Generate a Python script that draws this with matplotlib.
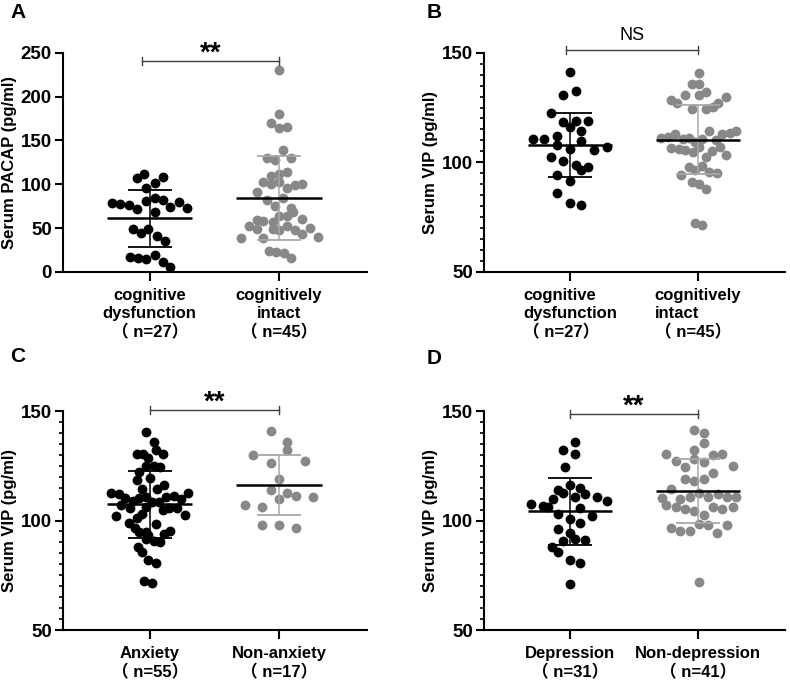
import numpy as np
import matplotlib
matplotlib.use("Agg")
import matplotlib.pyplot as plt
from matplotlib.ticker import MultipleLocator

plt.rcParams['font.family'] = ['Liberation Sans', 'Noto Sans CJK SC']
plt.rcParams['font.weight'] = 'bold'

# ---- panel A: serum PACAP, cognitive dysfunction vs intact
a_labels = ["cognitive\ndysfunction\n（ n=27）", "cognitively\nintact\n（ n=45）"]
a_g1_vals = [111.6, 107.4, 107.8, 101.7, 95.3, 78.2, 77.4, 76.6, 72.1, 81.2, 83.9, 82.0, 68.6, 74.3,
             79.7, 72.9, 49.3, 44.7, 49.3, 41.0, 35.6, 17.4, 15.9, 14.5, 19.7, 11.4, 6.0]
a_g1_dx = [-0.04, -0.10, 0.10, 0.04, -0.03, -0.29, -0.23, -0.16, -0.10, -0.03, 0.04, 0.10, 0.04, 0.16,
           0.23, 0.29, -0.13, -0.07, -0.01, 0.06, 0.12, -0.15, -0.09, -0.03, 0.04, 0.10, 0.16]
a_g2_vals = [230.3, 180.2, 169.6, 164.3, 165.1, 138.9, 129.4, 127.8, 129.4, 109.6, 111.2, 113.5, 102.8,
             99.8, 102.1, 95.3, 99.0, 99.8, 90.7, 81.6, 83.9, 74.8, 72.5, 68.0, 64.1, 64.1, 60.3, 59.5,
             58.0, 57.3, 52.0, 49.0, 49.0, 47.5, 52.0, 47.5, 42.9, 49.7, 39.0, 39.0, 39.8, 23.9, 22.4,
             21.6, 16.3]
a_g2_dx = [0.00, 0.00, -0.06, 0.00, 0.06, 0.03, -0.09, -0.03, 0.09, -0.06, 0.00, 0.06, -0.12, -0.06,
           0.00, 0.06, 0.12, 0.18, -0.17, -0.09, 0.03, -0.03, 0.09, 0.11, 0.00, 0.06, 0.18, -0.17, -0.12,
           -0.05, -0.23, -0.17, -0.05, 0.00, 0.06, 0.12, 0.18, 0.24, -0.29, -0.12, 0.30, -0.08, -0.02,
           0.04, 0.09]
a_means = [61.1, 84.2]
a_sds = [32.7, 47.6]

# ---- panel B: serum VIP, cognitive dysfunction vs intact
b_labels = a_labels
b_g1_vals = [141.1, 130.9, 132.4, 122.4, 118.4, 119.0, 119.0, 116.0, 112.0, 114.2, 110.8, 110.5, 107.8,
             109.9, 106.2, 105.6, 107.1, 102.6, 100.8, 98.9, 96.5, 98.0, 94.1, 91.6, 86.2, 81.6, 80.4]
b_g1_dx = [0.00, -0.05, 0.05, -0.15, -0.05, 0.05, 0.14, 0.00, -0.10, 0.09, -0.29, -0.20, -0.10, 0.09,
           0.00, 0.19, 0.29, -0.15, -0.05, 0.05, 0.09, 0.14, -0.10, 0.00, -0.10, 0.00, 0.09]
b_g2_vals = [140.6, 135.7, 135.7, 130.6, 130.6, 132.1, 128.4, 126.9, 129.7, 126.9, 124.5, 124.5, 125.1,
             114.4, 111.1, 111.4, 112.9, 110.8, 111.1, 110.8, 112.9, 113.5, 114.4, 109.1, 110.2, 106.5,
             106.2, 105.6, 104.7, 107.1, 106.9, 105.3, 103.2, 102.3, 98.3, 98.0, 96.5, 95.6, 95.0, 94.4,
             91.0, 90.1, 88.0, 72.2, 71.6]
b_g2_dx = [0.01, -0.05, 0.01, -0.10, 0.01, 0.06, -0.21, -0.16, 0.22, 0.16, -0.05, 0.06, 0.12, 0.09,
           -0.29, -0.23, -0.18, -0.12, -0.07, 0.03, 0.19, 0.25, 0.30, -0.02, 0.14, -0.21, -0.15, -0.10,
           -0.04, 0.01, 0.17, 0.11, 0.22, 0.06, 0.03, -0.07, -0.02, 0.09, 0.15, -0.13, -0.05, 0.01, 0.06,
           -0.02, 0.03]
b_means = [107.9, 110.3]
b_sds = [14.7, 15.7]

# ---- panel C: serum VIP, anxiety vs non-anxiety
c_labels = ["Anxiety\n（ n=55）", "Non-anxiety\n（ n=17）"]
c_g1_vals = [140.5, 135.7, 130.5, 130.5, 132.0, 130.5, 128.4, 124.7, 125.0, 124.4, 122.3, 118.4, 119.3,
             116.2, 114.4, 114.4, 112.6, 112.0, 110.4, 110.4, 110.7, 110.7, 111.0, 109.8, 112.6, 108.9,
             108.6, 108.3, 107.1, 105.6, 106.2, 104.7, 105.6, 105.8, 102.2, 103.1, 102.5, 101.0, 98.9,
             98.3, 96.4, 94.9, 94.6, 94.0, 95.2, 93.4, 91.6, 90.6, 90.0, 87.9, 85.5, 81.8, 80.6, 72.4,
             71.5]
c_g1_dx = [-0.03, 0.03, -0.10, -0.05, 0.05, 0.10, -0.01, -0.03, 0.03, 0.08, -0.08, -0.10, 0.00, 0.11,
           0.06, -0.06, -0.30, -0.24, -0.19, -0.08, -0.03, 0.13, 0.19, 0.24, 0.30, -0.13, 0.02, 0.07,
           -0.22, -0.15, -0.03, 0.10, 0.15, 0.21, -0.26, -0.06, 0.27, -0.10, -0.16, 0.05, -0.11, -0.08,
           -0.03, 0.11, 0.16, -0.01, -0.03, 0.03, 0.08, -0.09, -0.06, -0.01, 0.05, -0.04, 0.02]
c_g2_vals = [141.0, 135.8, 132.2, 129.8, 126.4, 127.0, 119.1, 113.9, 112.7, 111.2, 110.9, 110.0, 107.2,
             106.0, 98.1, 97.8, 96.6]
c_g2_dx = [-0.06, 0.06, 0.06, -0.20, -0.06, 0.20, 0.00, -0.06, 0.06, 0.13, 0.26, 0.00, -0.26, -0.13,
           -0.13, 0.00, 0.13]
c_means = [107.4, 116.2]
c_sds = [15.4, 13.7]

# ---- panel D: serum VIP, depression vs non-depression
d_labels = ["Depression\n（ n=31）", "Non-depression\n（ n=41）"]
d_g1_vals = [135.7, 132.0, 130.5, 124.4, 116.2, 114.1, 112.6, 114.7, 112.0, 110.7, 109.8, 110.7, 108.9,
             107.7, 106.8, 106.2, 105.6, 103.1, 102.2, 100.7, 98.9, 96.1, 94.3, 90.6, 91.6, 91.0, 87.9,
             85.8, 81.8, 80.6, 71.1]
d_g1_dx = [0.04, -0.05, 0.04, -0.04, 0.00, -0.09, -0.05, 0.08, 0.12, 0.04, -0.13, 0.21, 0.29, -0.30,
           -0.21, -0.17, 0.08, -0.09, 0.17, 0.00, 0.08, -0.09, 0.00, -0.05, 0.04, 0.12, -0.14, -0.09,
           0.00, 0.08, 0.00]
d_g2_vals = [141.3, 140.1, 135.5, 132.2, 130.4, 129.8, 130.4, 127.0, 128.2, 126.7, 124.9, 124.3, 121.8,
             118.8, 118.2, 119.1, 114.2, 112.7, 110.3, 110.0, 110.9, 110.9, 112.1, 110.9, 110.6, 106.9,
             106.0, 105.4, 104.5, 106.3, 105.1, 106.0, 102.4, 98.4, 98.1, 98.1, 96.6, 95.3, 95.3, 94.2,
             71.9]
d_g2_dx = [-0.03, 0.05, 0.05, -0.03, -0.25, 0.12, 0.19, -0.17, -0.03, 0.05, 0.27, -0.10, 0.12, -0.10,
           -0.03, 0.05, -0.21, 0.01, -0.28, -0.14, -0.06, 0.08, 0.16, 0.23, 0.30, -0.25, -0.17, -0.10,
           -0.03, 0.12, 0.19, 0.27, 0.05, 0.01, 0.08, 0.23, -0.21, -0.14, -0.06, 0.15, 0.01]
d_means = [104.3, 113.3]
d_sds = [15.3, 14.6]

BLACK = "#000000"
GRAY = "#888888"
GRAY_BAR = "#a8a8a8"


def draw_panel(ax, g1, g2, means, sds, labels, ylabel, ylim, ystep, minor,
               sig, sig_y, sig_x, align="center"):
    colors = [BLACK, GRAY]
    bar_colors = [BLACK, GRAY_BAR]
    for i, (vals, dx) in enumerate([g1, g2]):
        xs = i + np.array(dx)
        ax.scatter(xs, vals, s=50, color=colors[i], linewidths=0, zorder=2, clip_on=False)
        ax.errorbar(i, means[i], yerr=sds[i], fmt='none', ecolor=bar_colors[i],
                    elinewidth=1.1, capsize=15.5, capthick=1.3, zorder=3)
        ax.hlines(means[i], i - 0.33, i + 0.33, color=BLACK, lw=1.8, zorder=4)

    ax.set_xlim(-0.67, 1.68)
    ax.set_ylim(*ylim)
    ax.set_yticks(np.arange(ylim[0], ylim[1] + 1, ystep))
    if minor:
        ax.yaxis.set_minor_locator(MultipleLocator(minor))
    ax.set_xticks([0, 1])
    ax.set_xticklabels(labels, fontsize=12, fontweight='bold', linespacing=1.25,
                       multialignment=align)
    ax.tick_params(axis='y', labelsize=13.5, width=1.5, length=6, pad=2)
    ax.tick_params(axis='y', which='minor', width=1.2, length=3)
    ax.tick_params(axis='x', width=1.5, length=6.5, pad=5)
    for lab in ax.get_yticklabels():
        lab.set_fontweight('bold')
    ax.spines['top'].set_visible(False)
    ax.spines['right'].set_visible(False)
    ax.spines['left'].set_linewidth(1.5)
    ax.spines['bottom'].set_linewidth(1.5)
    ax.set_ylabel(ylabel, fontsize=12, fontweight='bold')
    ax.yaxis.set_label_coords(-0.152, 0.5)

    # significance bracket
    h = 0.018 * (ylim[1] - ylim[0])
    ax.plot(sig_x, [sig_y, sig_y], color="#404040", lw=1, clip_on=False)
    for xe in sig_x:
        ax.plot([xe, xe], [sig_y - h, sig_y + h], color="#404040", lw=1, clip_on=False)
    if sig == "NS":
        ax.annotate(sig, xy=(np.mean(sig_x), sig_y), xytext=(0, 7), textcoords='offset points',
                    ha='center', va='baseline', fontsize=13, fontweight='normal',
                    annotation_clip=False)
    else:
        ax.annotate(sig, xy=(np.mean(sig_x), sig_y), xytext=(0, 0.5), textcoords='offset points',
                    ha='center', va='baseline', fontsize=20, fontweight='bold',
                    annotation_clip=False)


fig = plt.figure(figsize=(7.9, 6.8), dpi=100)
ax_a = fig.add_axes([0.0797, 0.600, 0.3848, 0.3225])
ax_b = fig.add_axes([0.6127, 0.600, 0.3810, 0.3225])
ax_c = fig.add_axes([0.0797, 0.0735, 0.3848, 0.3220])
ax_d = fig.add_axes([0.6127, 0.0735, 0.3810, 0.3220])

draw_panel(ax_a, (a_g1_vals, a_g1_dx), (a_g2_vals, a_g2_dx), a_means, a_sds, a_labels,
           "Serum PACAP (pg/ml)", (0, 250), 50, None, "**", 240.5, [-0.06, 1.0])
draw_panel(ax_b, (b_g1_vals, b_g1_dx), (b_g2_vals, b_g2_dx), b_means, b_sds, b_labels,
           "Serum VIP (pg/ml)", (50, 150), 50, 5, "NS", 151.2, [-0.03, 1.0], align="left")
draw_panel(ax_c, (c_g1_vals, c_g1_dx), (c_g2_vals, c_g2_dx), c_means, c_sds, c_labels,
           "Serum VIP (pg/ml)", (50, 150), 50, 5, "**", 150.5, [0.0, 1.0])
draw_panel(ax_d, (d_g1_vals, d_g1_dx), (d_g2_vals, d_g2_dx), d_means, d_sds, d_labels,
           "Serum VIP (pg/ml)", (50, 150), 50, 5, "**", 148.6, [0.0, 1.0])

for letter, (x, y) in zip("ABCD", [(10, 13), (427, 13), (10, 356), (427, 358)]):
    fig.text(x / 790, 1 - y / 680, letter, fontsize=15, fontweight='bold', va='center', ha='left')

fig.savefig("out.png", dpi=100)
